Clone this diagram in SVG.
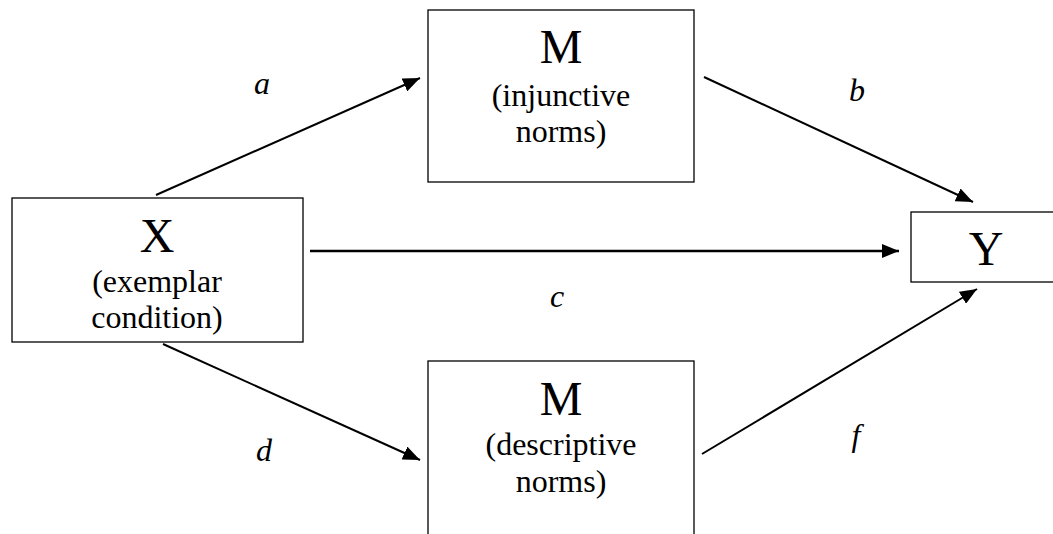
<svg xmlns="http://www.w3.org/2000/svg" width="1053" height="534" viewBox="0 0 1053 534">
<style>
.box{fill:#fff;stroke:#000;stroke-width:1.3}
.t{font-family:"Liberation Serif","Times New Roman",serif;fill:#000;text-anchor:middle}
.big{font-size:48px}
.sub{font-size:32px}
.lab{font-size:32px;font-style:italic}
.ln{stroke:#000;stroke-width:2;fill:none}
</style>
<defs>
<marker id="ah" markerUnits="userSpaceOnUse" markerWidth="18" markerHeight="14" viewBox="0 0 18 14" refX="17" refY="7" orient="auto">
<path d="M0,0 L17,7 L0,14 Z" fill="#000"/>
</marker>
</defs>
<rect width="1053" height="534" fill="#fff"/>
<g id="connectors">
<line class="ln" x1="156" y1="195" x2="420" y2="78" marker-end="url(#ah)"/>
<line class="ln" x1="704" y1="77" x2="973" y2="202" marker-end="url(#ah)"/>
<line class="ln" x1="310" y1="251" x2="899" y2="251" marker-end="url(#ah)" style="stroke-width:2.5"/>
<line class="ln" x1="163" y1="344" x2="420" y2="460" marker-end="url(#ah)"/>
<line class="ln" x1="702" y1="454" x2="977" y2="289" marker-end="url(#ah)"/>
<text class="t lab" x="262" y="94">a</text>
<text class="t lab" x="857" y="101">b</text>
<text class="t lab" x="557" y="307">c</text>
<text class="t lab" x="264" y="461">d</text>
<text class="t lab" x="856" y="446">f</text>
</g>
<g id="nodeX">
<rect class="box" x="12" y="198" width="291" height="144"/>
<text class="t big" x="157" y="252">X</text>
<text class="t sub" x="157" y="292">(exemplar</text>
<text class="t sub" x="157" y="328">condition)</text>
</g>
<g id="nodeM1">
<rect class="box" x="428" y="10" width="266" height="172"/>
<text class="t big" x="561" y="63">M</text>
<text class="t sub" x="561" y="106">(injunctive</text>
<text class="t sub" x="561" y="142">norms)</text>
</g>
<g id="nodeM2">
<rect class="box" x="428" y="361" width="266" height="190"/>
<text class="t big" x="561" y="415">M</text>
<text class="t sub" x="561" y="455">(descriptive</text>
<text class="t sub" x="561" y="492">norms)</text>
</g>
<g id="nodeY">
<rect class="box" x="911" y="212" width="150" height="70"/>
<text class="t big" x="986" y="265">Y</text>
</g>
</svg>
